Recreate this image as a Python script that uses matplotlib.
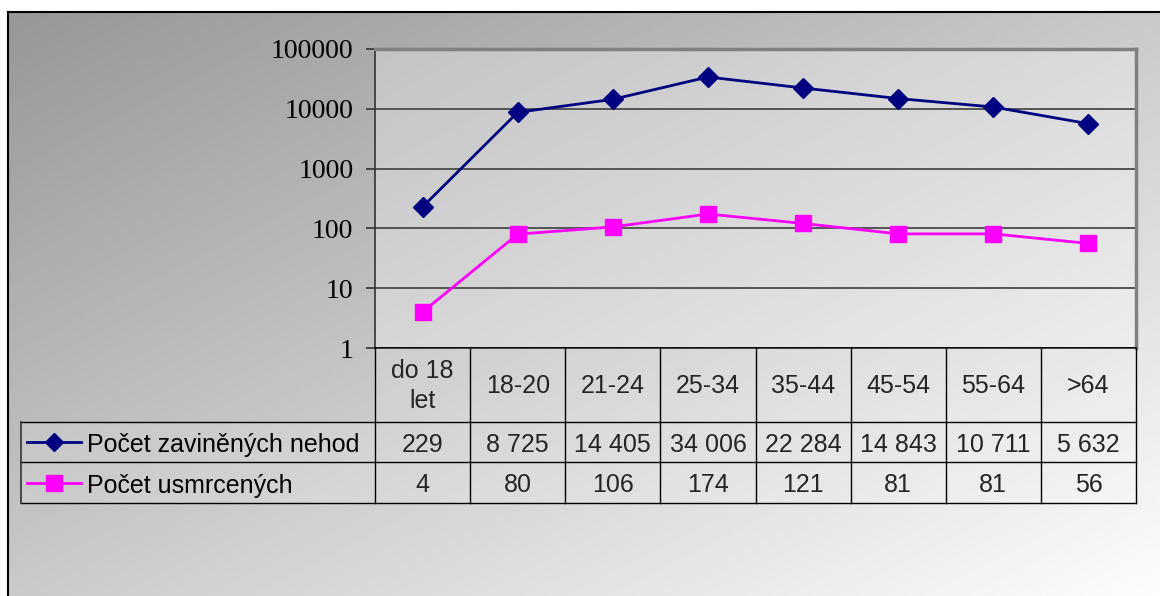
import numpy as np
import matplotlib
matplotlib.use('Agg')
import matplotlib.pyplot as plt
import matplotlib.transforms as mtransforms
from matplotlib.patches import Rectangle
from matplotlib.lines import Line2D

age_groups = ['do 18\nlet', '18-20', '21-24', '25-34', '35-44', '45-54', '55-64', '>64']
accidents = [229, 8725, 14405, 34006, 22284, 14843, 10711, 5632]
deaths = [4, 80, 106, 174, 121, 81, 81, 56]
series_names = ['Počet zaviněných nehod', 'Počet usmrcených']
y_ticks = [1, 10, 100, 1000, 10000, 100000]

NAVY = '#000080'
MAGENTA = '#FF00FF'
SANS = 'Liberation Sans'
SERIF = 'Liberation Serif'

W, H = 1160, 596
fig = plt.figure(figsize=(W / 100, H / 100), dpi=100, facecolor='white')


def fx(px):
    return px / W


def fy(py):
    return 1 - py / H


# grey-to-white diagonal gradient inside the outer frame
bg = fig.add_axes([fx(8), 0, 1 - fx(8), fy(12)])
bg.set_axis_off()
gx, gy = np.meshgrid(np.linspace(0, 1, 400), np.linspace(0, 1, 250))
shade = np.clip(0.59 + 0.40 * (0.5 * gx + 0.5 * gy), 0, 1)
bg.imshow(shade, cmap='gray', vmin=0, vmax=1, aspect='auto', origin='upper',
          extent=[0, 1, 0, 1])
bg.set_xlim(0, 1)
bg.set_ylim(0, 1)

fig.add_artist(Line2D([fx(8), fx(8)], [0, fy(12)], transform=fig.transFigure,
                      color='black', lw=1.5))
fig.add_artist(Line2D([fx(8), 1], [fy(12), fy(12)], transform=fig.transFigure,
                      color='black', lw=1.5))

# plot area
left, right, top, bottom = 375, 1136, 49, 348
ax = fig.add_axes([fx(left), fy(bottom), fx(right) - fx(left), fy(top) - fy(bottom)])
ax.set_facecolor('none')
ax.add_patch(Rectangle((0, 0), 1, 1, transform=ax.transAxes, facecolor='white',
                       alpha=0.3, lw=0, zorder=0))

x = np.arange(len(age_groups))
ax.plot(x, accidents, color=NAVY, lw=2, marker='D', ms=10, zorder=4, clip_on=False)
ax.plot(x, deaths, color=MAGENTA, lw=2, marker='s', ms=11, zorder=4, clip_on=False)

ax.set_yscale('log')
ax.set_ylim(1, 100000)
ax.set_xlim(-0.5, len(age_groups) - 0.5)
ax.set_yticks(y_ticks, labels=[str(t) for t in y_ticks])
ax.yaxis.set_minor_locator(matplotlib.ticker.NullLocator())
ax.set_xticks([])
ax.yaxis.grid(True, color='#4a4a4a', lw=1.3)
ax.set_axisbelow(True)
ax.tick_params(axis='y', length=6.5, width=1.2, color='#333333', pad=9,
               labelsize=20)
for lab in ax.get_yticklabels():
    lab.set_fontfamily(SERIF)

ax.spines['left'].set_color('#333333')
ax.spines['left'].set_linewidth(1.2)
ax.spines['bottom'].set_color('black')
ax.spines['bottom'].set_linewidth(1.2)
for side in ('top', 'right'):
    ax.spines[side].set_color('#808080')
    ax.spines[side].set_linewidth(2.5)

# data table underneath
row_y = [348, 422, 462, 503]
legend_left = 21
col_w = (right - left) / len(age_groups)
fs = 18
text_drop = 3  # px, text sits a touch below the geometric cell centre

fig.add_artist(Rectangle((fx(left), fy(row_y[1])), fx(right) - fx(left),
                         fy(row_y[0]) - fy(row_y[1]), transform=fig.transFigure,
                         facecolor='white', alpha=0.15, lw=0))
fig.add_artist(Rectangle((fx(legend_left), fy(row_y[3])), fx(right) - fx(legend_left),
                         fy(row_y[1]) - fy(row_y[3]), transform=fig.transFigure,
                         facecolor='white', alpha=0.15, lw=0))

for py in row_y[1:]:
    fig.add_artist(Line2D([fx(legend_left), fx(right)], [fy(py), fy(py)],
                          transform=fig.transFigure, color='black', lw=1))
for k in range(len(age_groups) + 1):
    px = left + k * col_w
    fig.add_artist(Line2D([fx(px), fx(px)], [fy(row_y[0]), fy(row_y[3])],
                          transform=fig.transFigure, color='black', lw=1))
fig.add_artist(Line2D([fx(legend_left), fx(legend_left)], [fy(row_y[1]), fy(row_y[3])],
                      transform=fig.transFigure, color='#333333', lw=1.2))

trans = mtransforms.blended_transform_factory(ax.transData, fig.transFigure)
header_mid = fy((row_y[0] + row_y[1]) / 2 + 1)
for i, label in enumerate(age_groups):
    ax.text(i, header_mid, label, transform=trans, ha='center', va='center',
            fontsize=fs, family=SANS, linespacing=1.3)

rows = [accidents, deaths]
styles = [(NAVY, 'D', 9), (MAGENTA, 's', 11)]
for r, (values, name, (color, marker, ms)) in enumerate(zip(rows, series_names, styles)):
    line_mid = fy((row_y[r + 1] + row_y[r + 2]) / 2)
    mid = fy((row_y[r + 1] + row_y[r + 2]) / 2 + text_drop)
    for i, v in enumerate(values):
        ax.text(i, mid, f'{v:,}'.replace(',', ' '), transform=trans, ha='center',
                va='center', fontsize=fs, family=SANS)
    fig.add_artist(Line2D([fx(27), fx(81)], [line_mid, line_mid],
                          transform=fig.transFigure, color=color, lw=2))
    fig.add_artist(Line2D([fx(54)], [line_mid], transform=fig.transFigure, color=color,
                          marker=marker, ms=ms, lw=0))
    fig.text(fx(87), mid, name, ha='left', va='center', fontsize=fs, family=SANS)

fig.savefig('out.png', dpi=100, facecolor='white')
